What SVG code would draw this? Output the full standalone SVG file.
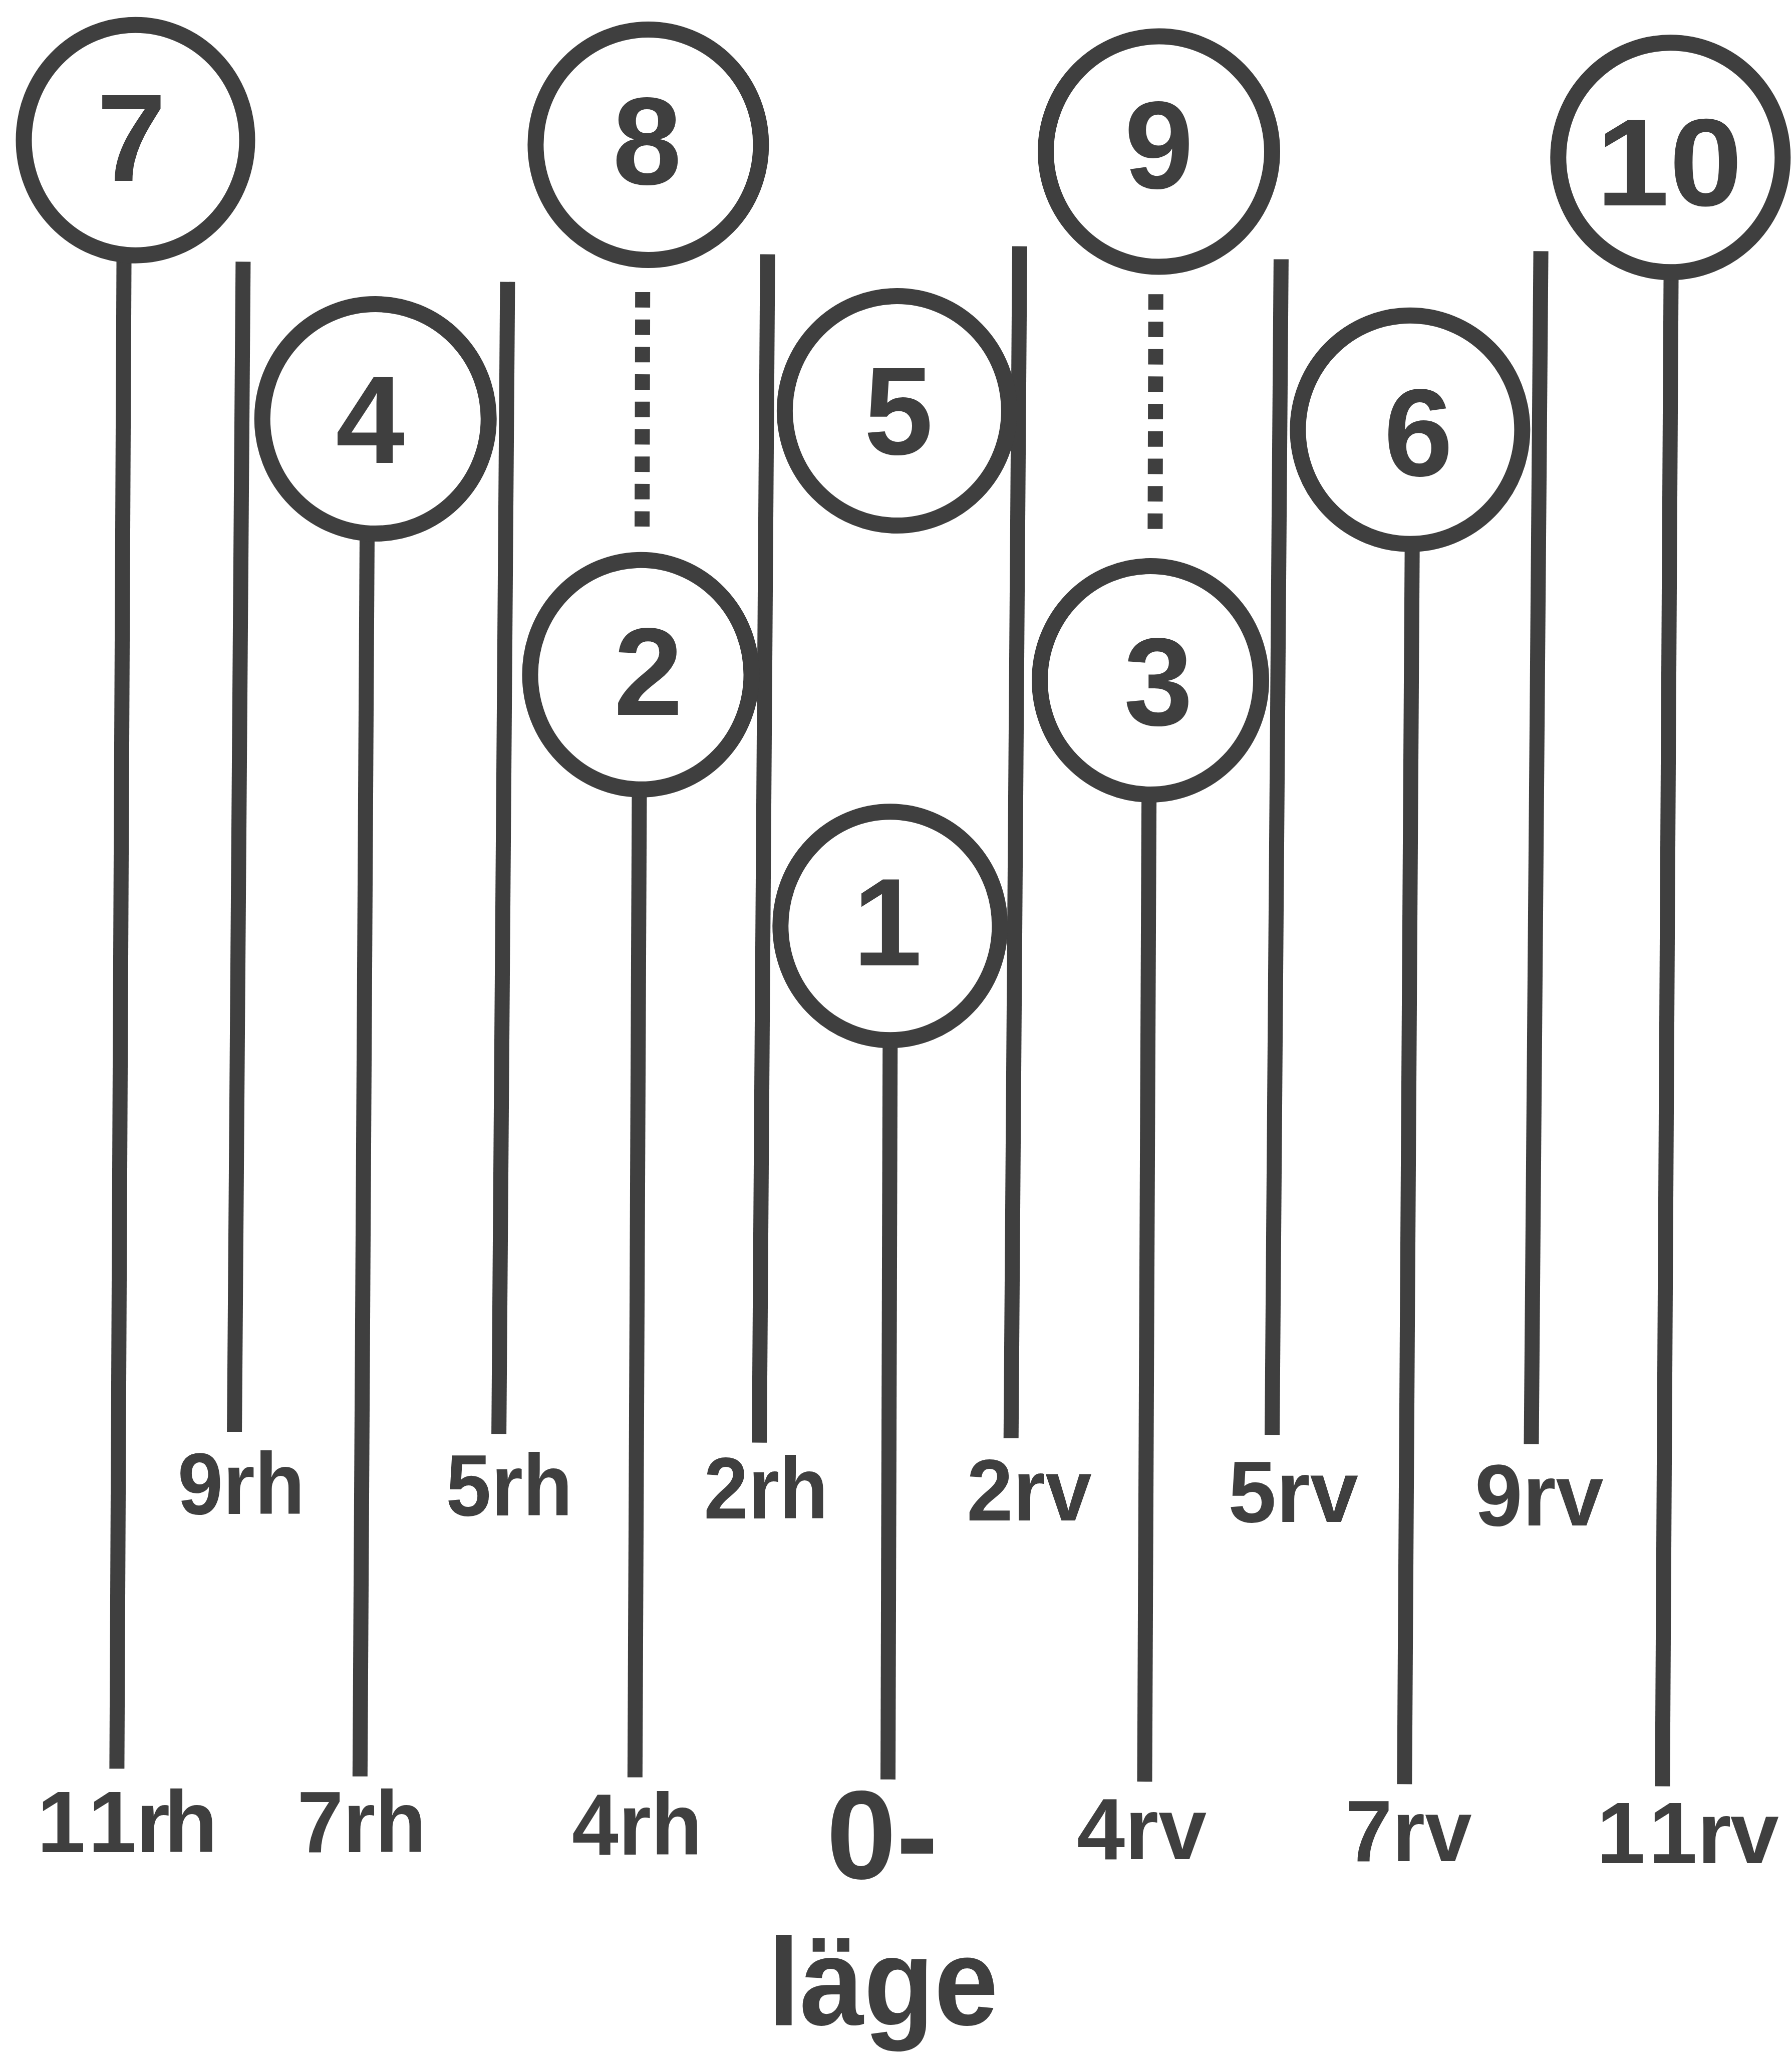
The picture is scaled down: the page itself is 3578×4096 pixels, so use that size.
<svg xmlns="http://www.w3.org/2000/svg" width="3578" height="4096" viewBox="0 0 3578 4096">
  <style>
    .ring { fill: none; stroke: #3f3f3f; stroke-width: 32; }
    .stem { stroke: #3f3f3f; stroke-width: 30; stroke-linecap: butt; fill: none; }
    .dots { stroke: #3f3f3f; stroke-width: 30; stroke-linecap: butt; stroke-dasharray: 30.9 23.8; fill: none; }
    .num { font-family: "Liberation Sans", Arial, Helvetica, sans-serif; font-weight: bold; font-size: 248px; fill: #3f3f3f; text-anchor: middle; }
    .lbl { font-family: "Liberation Sans", Arial, Helvetica, sans-serif; font-weight: bold; font-size: 174px; fill: #3f3f3f; text-anchor: middle; }
    .lbl.spaced { text-anchor: start; }
    .big { font-family: "Liberation Sans", Arial, Helvetica, sans-serif; font-weight: bold; fill: #3f3f3f; }
  </style>
  <rect width="3578" height="4096" fill="#ffffff"/>

  <!-- vertical stems and dotted links -->
  <g id="connectors">
    <line class="stem" x1="247.6" y1="508" x2="233.4" y2="3530.5"/>
    <line class="stem" x1="485.4" y1="522.4" x2="468.1" y2="2858"/>
    <line class="stem" x1="733" y1="1064" x2="718.8" y2="3546"/>
    <line class="stem" x1="1013.4" y1="562.6" x2="996.1" y2="2862.3"/>
    <line class="stem" x1="1276.5" y1="1575" x2="1267.8" y2="3547.8"/>
    <line class="stem" x1="1532.7" y1="507.6" x2="1516.1" y2="2879.6"/>
    <line class="stem" x1="1777.3" y1="2076" x2="1773" y2="3552.1"/>
    <line class="stem" x1="2036" y1="491.6" x2="2018.7" y2="2871"/>
    <line class="stem" x1="2294.2" y1="1586" x2="2285.5" y2="3556.4"/>
    <line class="stem" x1="2557.9" y1="517.5" x2="2540" y2="2864.2"/>
    <line class="stem" x1="2819.7" y1="1086" x2="2804.3" y2="3561.4"/>
    <line class="stem" x1="3076.6" y1="501.4" x2="3057.5" y2="2882.7"/>
    <line class="stem" x1="3336.6" y1="542" x2="3319.3" y2="3565.7"/>
    <line id="link-8-2" class="dots" x1="1283.2" y1="583" x2="1282" y2="1051.1"/>
    <line id="link-9-3" class="dots" x1="2307.8" y1="587.3" x2="2306.4" y2="1056.6"/>
  </g>

  <!-- numbered rings -->
  <g id="node-7">
    <ellipse class="ring" cx="270.5" cy="279.7" rx="223" ry="230"/>
    <text class="num" x="262.5" y="361.3">7</text>
  </g>
  <g id="node-8">
    <ellipse class="ring" cx="1294.4" cy="289" rx="225" ry="230"/>
    <text class="num" x="1291.9" y="368">8</text>
  </g>
  <g id="node-9">
    <ellipse class="ring" cx="2314" cy="302.6" rx="226" ry="230"/>
    <text class="num" x="2314" y="375.5">9</text>
  </g>
  <g id="node-10">
    <ellipse class="ring" cx="3335.3" cy="314.3" rx="224" ry="229"/>
    <text class="num" x="3333" y="410" textLength="292" lengthAdjust="spacingAndGlyphs">10</text>
  </g>
  <g id="node-4">
    <ellipse class="ring" cx="749.7" cy="836.1" rx="226" ry="229"/>
    <text class="num" x="739.3" y="923.9">4</text>
  </g>
  <g id="node-5">
    <ellipse class="ring" cx="1790.9" cy="820.1" rx="224" ry="229"/>
    <text class="num" x="1794" y="906.6">5</text>
  </g>
  <g id="node-6">
    <ellipse class="ring" cx="2815.4" cy="857.8" rx="224" ry="228"/>
    <text class="num" x="2832" y="950.4">6</text>
  </g>
  <g id="node-2">
    <ellipse class="ring" cx="1279.5" cy="1346.8" rx="221" ry="229"/>
    <text class="num" x="1294.4" y="1427.2">2</text>
  </g>
  <g id="node-3">
    <ellipse class="ring" cx="2297" cy="1358" rx="221" ry="228"/>
    <text class="num" x="2312.7" y="1446.9">3</text>
  </g>
  <g id="node-1">
    <ellipse class="ring" cx="1777.3" cy="1848.3" rx="219" ry="228"/>
    <text class="num" x="1772" y="1927.4">1</text>
  </g>

  <!-- stem end labels -->
  <g id="labels">
    <text class="lbl" x="481.4" y="3022.3" textLength="254" lengthAdjust="spacingAndGlyphs">9rh</text>
    <text class="lbl" x="1016.8" y="3024.7" textLength="253" lengthAdjust="spacingAndGlyphs">5rh</text>
    <text class="lbl" x="1529.3" y="3030.9" textLength="248" lengthAdjust="spacingAndGlyphs">2rh</text>
    <text class="lbl" x="2054.9" y="3035.2" textLength="250" lengthAdjust="spacingAndGlyphs">2rv</text>
    <text class="lbl" x="2582" y="3038.3" textLength="260" lengthAdjust="spacingAndGlyphs">5rv</text>
    <text class="lbl" x="3073.2" y="3044.5" textLength="257" lengthAdjust="spacingAndGlyphs">9rv</text>
    <text class="lbl spaced" x="74 176 271.6 328" y="3697.2">11rh</text>
    <text class="lbl" x="722" y="3697.2" textLength="257" lengthAdjust="spacingAndGlyphs">7rh</text>
    <text class="lbl" x="1272.1" y="3701.5" textLength="260" lengthAdjust="spacingAndGlyphs">4rh</text>
    <text class="lbl" x="2279.7" y="3710.8" textLength="259" lengthAdjust="spacingAndGlyphs">4rv</text>
    <text class="lbl" x="2812.5" y="3715.1" textLength="252" lengthAdjust="spacingAndGlyphs">7rv</text>
    <text class="lbl spaced" x="3188 3292 3389 3455" y="3719.4">11rv</text>
  </g>

  <!-- zero position caption -->
  <g id="caption">
    <text class="big" x="1650" y="3749.7" font-size="251">0-</text>
    <text class="big" x="1533" y="4042" font-size="248" textLength="460" lengthAdjust="spacingAndGlyphs">läge</text>
  </g>
</svg>
